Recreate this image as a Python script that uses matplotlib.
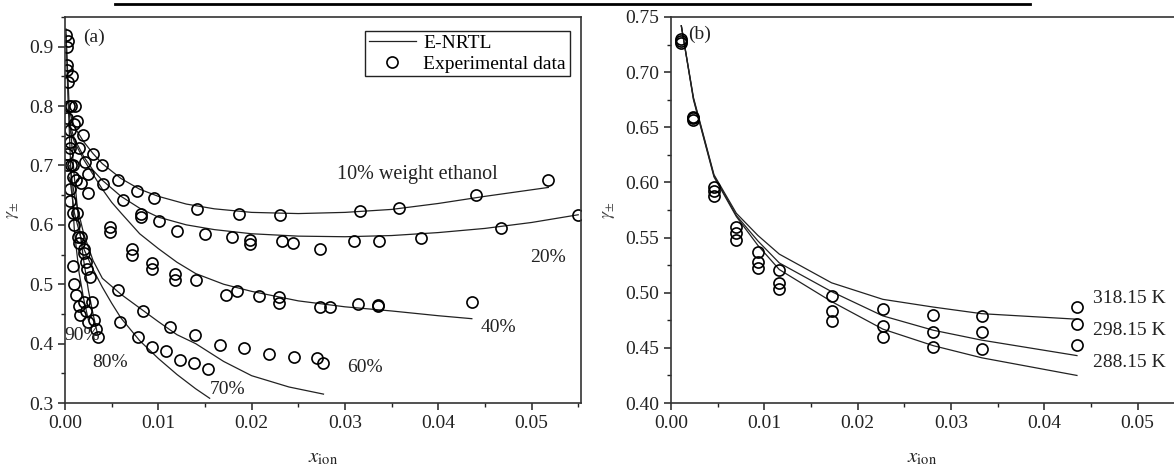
import matplotlib.pyplot as plt
from matplotlib.lines import Line2D
from matplotlib.ticker import MultipleLocator, FormatStrFormatter

plt.rcParams['font.family'] = ['Liberation Serif', 'DejaVu Serif']
plt.rcParams['mathtext.fontset'] = 'stix'

# ---- panel (a): experimental data, by ethanol weight fraction ----
x10 = [0.0003, 0.0007, 0.0011, 0.0013, 0.0019, 0.0030, 0.0040, 0.0057, 0.0077, 0.0095,
       0.0141, 0.0186, 0.0230, 0.0316, 0.0358, 0.0440, 0.0518]
y10 = [0.91, 0.85, 0.80, 0.775, 0.752, 0.72, 0.70, 0.675, 0.657, 0.645,
       0.627, 0.618, 0.617, 0.623, 0.628, 0.65, 0.676]

x20 = [0.0002, 0.0006, 0.0010, 0.0015, 0.0021, 0.0025, 0.0041, 0.0062, 0.0081, 0.0081,
       0.0101, 0.0120, 0.0150, 0.0179, 0.0198, 0.0198, 0.0233, 0.0244, 0.0273, 0.0310,
       0.0337, 0.0382, 0.0467, 0.0550]
y20 = [0.87, 0.80, 0.77, 0.73, 0.705, 0.685, 0.668, 0.642, 0.618, 0.613,
       0.607, 0.59, 0.585, 0.58, 0.575, 0.568, 0.572, 0.57, 0.56, 0.573,
       0.572, 0.578, 0.595, 0.617]

x40 = [0.0002, 0.0005, 0.0008, 0.0012, 0.0017, 0.0025, 0.0048, 0.0048, 0.0072, 0.0072,
       0.0093, 0.0093, 0.0118, 0.0118, 0.0140, 0.0173, 0.0184, 0.0208, 0.0229, 0.0229,
       0.0273, 0.0284, 0.0314, 0.0335, 0.0335, 0.0436]
y40 = [0.78, 0.73, 0.70, 0.675, 0.67, 0.653, 0.597, 0.588, 0.56, 0.55,
       0.535, 0.525, 0.517, 0.507, 0.507, 0.482, 0.488, 0.48, 0.478, 0.468,
       0.462, 0.462, 0.467, 0.465, 0.463, 0.47]

x60 = [0.0002, 0.0005, 0.0009, 0.0014, 0.0020, 0.0057, 0.0084, 0.0112, 0.0139, 0.0166,
       0.0192, 0.0219, 0.0245, 0.0270, 0.0277]
y60 = [0.72, 0.66, 0.62, 0.58, 0.56, 0.49, 0.455, 0.428, 0.415, 0.398,
       0.392, 0.382, 0.377, 0.375, 0.367]

x70 = [0.0002, 0.0005, 0.0010, 0.0015, 0.0059, 0.0078, 0.0093, 0.0108, 0.0123, 0.0138, 0.0153]
y70 = [0.70, 0.64, 0.60, 0.57, 0.437, 0.412, 0.395, 0.387, 0.372, 0.367, 0.357]

x80 = [0.0002, 0.0005, 0.0009, 0.0013, 0.0017, 0.0020, 0.0022, 0.0024, 0.0027, 0.0029,
       0.0031, 0.0033, 0.0035]
y80 = [0.86, 0.76, 0.68, 0.62, 0.58, 0.552, 0.538, 0.525, 0.513, 0.47,
       0.44, 0.425, 0.412]

x90 = [0.0001, 0.0002, 0.0003, 0.0004, 0.0005, 0.0006, 0.0008, 0.0010, 0.0012, 0.0015,
       0.0016, 0.0020, 0.0023, 0.0025]
y90 = [0.92, 0.90, 0.84, 0.80, 0.74, 0.70, 0.53, 0.50, 0.482, 0.463,
       0.448, 0.47, 0.455, 0.437]

# ---- panel (a): E-NRTL curves ----
lx10 = [0.0005, 0.001, 0.002, 0.003, 0.004, 0.006, 0.008, 0.010, 0.013, 0.016,
        0.020, 0.025, 0.030, 0.035, 0.040, 0.045, 0.0518]
ly10 = [0.79, 0.765, 0.74, 0.72, 0.703, 0.678, 0.66, 0.648, 0.635, 0.627,
        0.621, 0.619, 0.621, 0.626, 0.636, 0.648, 0.663]

lx20 = [0.0005, 0.001, 0.002, 0.003, 0.004, 0.006, 0.008, 0.010, 0.013, 0.016,
        0.020, 0.025, 0.030, 0.035, 0.040, 0.045, 0.050, 0.055]
ly20 = [0.77, 0.745, 0.715, 0.692, 0.675, 0.648, 0.628, 0.613, 0.600, 0.592,
        0.585, 0.581, 0.580, 0.582, 0.587, 0.594, 0.604, 0.617]

lx40 = [0.0005, 0.001, 0.002, 0.003, 0.004, 0.005, 0.006, 0.008, 0.010, 0.012,
        0.014, 0.017, 0.020, 0.025, 0.030, 0.035, 0.040, 0.0436]
ly40 = [0.76, 0.74, 0.71, 0.685, 0.66, 0.638, 0.62, 0.585, 0.56, 0.537,
        0.518, 0.50, 0.488, 0.472, 0.462, 0.455, 0.447, 0.442]

lx60 = [0.0005, 0.001, 0.002, 0.003, 0.004, 0.006, 0.008, 0.010, 0.012, 0.014,
        0.017, 0.020, 0.024, 0.0277]
ly60 = [0.70, 0.65, 0.585, 0.54, 0.51, 0.483, 0.46, 0.437, 0.415, 0.40,
        0.37, 0.346, 0.327, 0.315]

lx70 = [0.0005, 0.001, 0.002, 0.003, 0.004, 0.005, 0.006, 0.008, 0.010, 0.012, 0.014, 0.0155]
ly70 = [0.68, 0.62, 0.56, 0.525, 0.495, 0.468, 0.443, 0.405, 0.375, 0.348, 0.324, 0.308]

lx80 = [0.0001, 0.0005, 0.001, 0.0015, 0.002, 0.0025, 0.003, 0.0035]
ly80 = [0.92, 0.78, 0.68, 0.60, 0.54, 0.49, 0.45, 0.415]

lx90 = [0.0001, 0.0003, 0.0006, 0.001, 0.0015, 0.002, 0.0025]
ly90 = [0.93, 0.82, 0.70, 0.59, 0.52, 0.475, 0.44]

# ---- panel (b): temperatures ----
xb = [0.0011, 0.0024, 0.0046, 0.0070, 0.0093, 0.0116, 0.0172, 0.0227, 0.0281, 0.0333, 0.0435]
y318 = [0.730, 0.659, 0.596, 0.560, 0.537, 0.521, 0.497, 0.485, 0.480, 0.479, 0.487]
y298 = [0.728, 0.658, 0.592, 0.554, 0.528, 0.509, 0.483, 0.470, 0.464, 0.464, 0.472]
y288 = [0.726, 0.657, 0.588, 0.548, 0.522, 0.503, 0.474, 0.460, 0.451, 0.449, 0.453]
l318 = [0.742, 0.677, 0.607, 0.572, 0.552, 0.535, 0.509, 0.494, 0.487, 0.481, 0.476]
l298 = [0.742, 0.676, 0.606, 0.570, 0.547, 0.527, 0.501, 0.479, 0.466, 0.457, 0.443]
l288 = [0.742, 0.675, 0.605, 0.569, 0.543, 0.521, 0.492, 0.467, 0.452, 0.441, 0.425]

ink = '#222222'
fs = 14
mk = dict(ls='none', marker='o', ms=8, mfc='none', mec='black', mew=1.2)
lk = dict(color=ink, lw=0.9)

fig = plt.figure(figsize=(11.74, 4.67), dpi=100)
ax1 = fig.add_axes([0.0554, 0.137, 0.4395, 0.8266])
ax2 = fig.add_axes([0.5716, 0.137, 0.4284, 0.8266])

# decorative rule at the top
fig.add_artist(Line2D([0.098, 0.877], [0.991, 0.991], color='black', lw=2))

curves = [(lx10, ly10), (lx20, ly20), (lx40, ly40), (lx60, ly60),
          (lx70, ly70), (lx80, ly80), (lx90, ly90)]
for lx, ly in curves:
    ax1.plot(lx, ly, **lk)
points = [(x10, y10), (x20, y20), (x40, y40), (x60, y60),
          (x70, y70), (x80, y80), (x90, y90)]
for px, py in points:
    ax1.plot(px, py, **mk)

h1 = Line2D([], [], **lk)
h2 = Line2D([], [], **mk)
ax1.legend([h1, h2], ['E-NRTL', 'Experimental data'], loc='upper right',
           bbox_to_anchor=(0.986, 0.975), fancybox=False, framealpha=1,
           edgecolor=ink, fontsize=fs, handlelength=2.4, borderpad=0.2,
           labelspacing=0.15, handletextpad=0.4, borderaxespad=0.2)

ax1.set_xlim(0, 0.0553)
ax1.set_ylim(0.3, 0.95)
ax1.xaxis.set_major_locator(MultipleLocator(0.01))
ax1.xaxis.set_minor_locator(MultipleLocator(0.005))
ax1.yaxis.set_major_locator(MultipleLocator(0.1))
ax1.yaxis.set_minor_locator(MultipleLocator(0.05))
ax1.xaxis.set_major_formatter(FormatStrFormatter('%.2f'))
ax1.yaxis.set_major_formatter(FormatStrFormatter('%.1f'))

ax1.text(0.0019, 0.915, '(a)', fontsize=fs, color=ink, va='center')
ax1.text(0.0292, 0.685, '10% weight ethanol', fontsize=fs + 0.5, color=ink, va='center')
ax1.text(0.0498, 0.545, '20%', fontsize=fs, color=ink, va='center')
ax1.text(0.0445, 0.427, '40%', fontsize=fs, color=ink, va='center')
ax1.text(0.0302, 0.360, '60%', fontsize=fs, color=ink, va='center')
ax1.text(0.0155, 0.322, '70%', fontsize=fs, color=ink, va='center')
ax1.text(0.0029, 0.368, '80%', fontsize=fs, color=ink, va='center')
ax1.text(-0.0001, 0.413, '90%', fontsize=fs, color=ink, va='center')

ax2.plot(xb, l318, **lk)
ax2.plot(xb, l298, **lk)
ax2.plot(xb, l288, **lk)
ax2.plot(xb, y318, **mk)
ax2.plot(xb, y298, **mk)
ax2.plot(xb, y288, **mk)

ax2.set_xlim(0, 0.0539)
ax2.set_ylim(0.40, 0.75)
ax2.xaxis.set_major_locator(MultipleLocator(0.01))
ax2.xaxis.set_minor_locator(MultipleLocator(0.005))
ax2.yaxis.set_major_locator(MultipleLocator(0.05))
ax2.yaxis.set_minor_locator(MultipleLocator(0.025))
ax2.xaxis.set_major_formatter(FormatStrFormatter('%.2f'))
ax2.yaxis.set_major_formatter(FormatStrFormatter('%.2f'))
ax2.spines['right'].set_visible(False)

ax2.text(0.0018, 0.734, '(b)', fontsize=fs, color=ink, va='center')
ax2.text(0.0452, 0.495, '318.15 K', fontsize=fs, color=ink, va='center')
ax2.text(0.0452, 0.466, '298.15 K', fontsize=fs, color=ink, va='center')
ax2.text(0.0452, 0.437, '288.15 K', fontsize=fs, color=ink, va='center')

for ax in (ax1, ax2):
    for s in ax.spines.values():
        s.set_linewidth(1.2)
        s.set_color('#333333')
    ax.tick_params(which='both', direction='out', labelsize=fs, colors=ink)
    ax.tick_params(which='major', length=5, width=1.1)
    ax.tick_params(which='minor', length=3, width=1.0)
    ax.set_xlabel(r'$x_{\mathrm{ion}}$', fontsize=15, color=ink, labelpad=12)
    ax.set_ylabel(r'$\gamma_{\pm}$', fontsize=13, color='#444444', labelpad=6)

fig.savefig('out.png', dpi=100)
